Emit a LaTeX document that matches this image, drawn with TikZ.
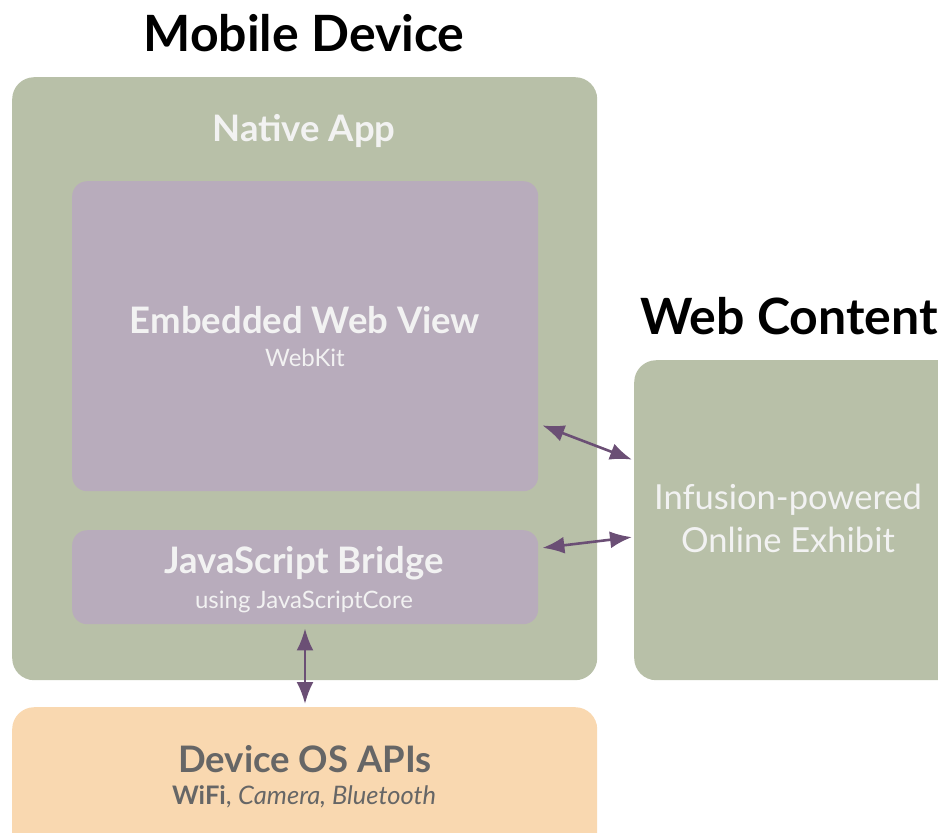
\documentclass[tikz,border=0pt]{standalone}
\usepackage{fontspec}
\setmainfont{Lato}
\usetikzlibrary{arrows.meta,calc}
\definecolor{sage}{HTML}{B8C0A8}
\definecolor{mauve}{HTML}{B8ACBC}
\definecolor{peach}{HTML}{F9D8B0}
\definecolor{plum}{HTML}{6B4F75}
\definecolor{paletext}{HTML}{F2F2F2}
\definecolor{darktext}{HTML}{666666}
\tikzset{
  box/.style={draw=none,rounded corners=#1,inner sep=0pt,anchor=north west},
  heading/.style={font=\bfseries\fontsize{50}{56}\selectfont,text=black},
  bigtitle/.style={font=\bfseries\fontsize{36.5}{42}\selectfont,text=paletext},
  subtitle/.style={font=\fontsize{24}{28}\selectfont,text=paletext},
  arr/.style={plum,line width=2.6pt,{Latex[length=22pt,width=17pt]}-{Latex[length=22pt,width=17pt]},shorten <=1pt,shorten >=1pt}
}
\begin{document}
\begin{tikzpicture}[x=1pt,y=-1pt]
\useasboundingbox (0,0) rectangle (938,833);
\clip (0,0) rectangle (938,833);
% containers
\node[box=22pt,fill=sage,minimum width=585pt,minimum height=603pt] (app) at (12,77) {};
\node[box=15pt,fill=mauve,minimum width=466pt,minimum height=310pt] (web) at (72,181) {};
\node[box=15pt,fill=mauve,minimum width=466pt,minimum height=94pt] (bridge) at (72,530) {};
\node[box=22pt,fill=peach,minimum width=585pt,minimum height=160pt] (os) at (12,707) {};
\node[box=22pt,fill=sage,minimum width=340pt,minimum height=320pt] (content) at (634,360) {};
% headings
\node[heading] (mobile) at (304,33) {Mobile Device};
\node[heading] (webcontent) at (789,316) {Web Content};
% labels
\node[bigtitle] (applabel) at (304,131) {Native App};
\node[bigtitle] (weblabel) at (305,320) {Embedded Web View};
\node[subtitle] (websub) at (305,358) {WebKit};
\node[bigtitle] (bridgelabel) at (304,563) {JavaScript Bridge};
\node[subtitle] (bridgesub) at (304,602) {using JavaScriptCore};
\node[font=\bfseries\fontsize{36.5}{42}\selectfont,text=darktext] (oslabel) at (305,759) {Device OS APIs};
\node[font=\fontsize{25.5}{30}\selectfont,text=darktext] (ossub) at (304,797) {\textbf{WiFi}, \textit{Camera, Bluetooth}};
\node[font=\fontsize{34.5}{43}\selectfont,text=paletext,align=center] (contentlabel) at (788,518) {Infusion-powered\\Online Exhibit};
% connectors
\coordinate (webport) at ($(web.north east)+(3,244)$);
\coordinate (bridgeport) at ($(bridge.north east)+(3,18)$);
\coordinate (contentin1) at ($(content.north west)+(-1,100)$);
\coordinate (contentin2) at ($(content.north west)+(-1,177)$);
\coordinate (bridgedown) at ($(bridge.south west)+(233,3)$);
\coordinate (osup) at ($(os.north west)+(293,-2)$);
\draw[arr] (webport) -- (contentin1);
\draw[arr] (bridgeport) -- (contentin2);
\draw[arr] (bridgedown) -- (osup);
\end{tikzpicture}
\end{document}
